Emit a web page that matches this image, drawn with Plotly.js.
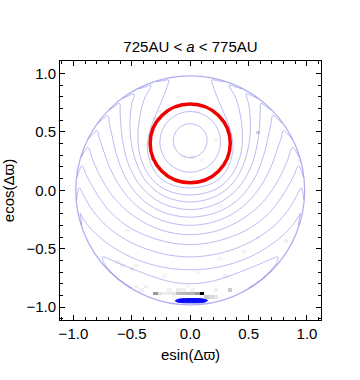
<!DOCTYPE html>
<html>
<head>
<meta charset="utf-8">
<script src="https://cdn.plot.ly/plotly-3.0.1.min.js"></script>
<style>
  html, body { margin: 0; padding: 0; background: #fff; }
  #plot { width: 360px; height: 380px; }
</style>
</head>
<body>
<div id="plot"></div>
<script>
// right halves of the secular contours (the picture is symmetric in x),
// read off the figure: bottom crossing -> side -> tongue tip -> back along the rim
const contourHalfX = [
  [0, 0.2, 0.31, 0.365, 0.355, 0.31, 0.25, 0.2, 0.185, 0.235, 0.287],
  [0, 0.22, 0.355, 0.43, 0.447, 0.43, 0.39, 0.335, 0.394, 0.444],
  [0, 0.23, 0.38, 0.47, 0.51, 0.515, 0.5, 0.48, 0.529, 0.576],
  [0, 0.24, 0.41, 0.52, 0.575, 0.595, 0.6, 0.606, 0.648, 0.691],
  [0, 0.25, 0.43, 0.56, 0.635, 0.67, 0.69, 0.708, 0.75, 0.788],
  [0, 0.25, 0.45, 0.6, 0.7, 0.755, 0.78, 0.797, 0.84, 0.872],
  [0, 0.25, 0.47, 0.64, 0.76, 0.83, 0.877, 0.909, 0.933],
  [0, 0.25, 0.5, 0.68, 0.8, 0.88, 0.928, 0.952, 0.968],
  [0, 0.25, 0.5, 0.7, 0.83, 0.91, 0.951, 0.966, 0.972],
  [0, 0.25, 0.5, 0.7, 0.84, 0.915, 0.943, 0.934, 0.928],
  [0, 0.2, 0.45, 0.62, 0.72, 0.75, 0.745, 0.69, 0.6, 0.5],
];
const contourHalfY = [
  [0.02, 0.065, 0.17, 0.34, 0.47, 0.61, 0.75, 0.88, 0.945, 0.937, 0.932],
  [-0.04, 0.01, 0.13, 0.3, 0.46, 0.64, 0.79, 0.9, 0.882, 0.868],
  [-0.1, -0.045, 0.08, 0.26, 0.45, 0.62, 0.74, 0.825, 0.808, 0.787],
  [-0.165, -0.11, 0.02, 0.2, 0.4, 0.57, 0.67, 0.745, 0.717, 0.688],
  [-0.23, -0.18, -0.06, 0.12, 0.32, 0.47, 0.56, 0.64, 0.609, 0.574],
  [-0.3, -0.255, -0.14, 0.03, 0.22, 0.38, 0.45, 0.51, 0.477, 0.437],
  [-0.38, -0.34, -0.23, -0.08, 0.1, 0.25, 0.368, 0.327, 0.282],
  [-0.465, -0.43, -0.33, -0.19, -0.03, 0.11, 0.21, 0.164, 0.115],
  [-0.57, -0.54, -0.45, -0.32, -0.18, -0.05, 0.022, -0.029, -0.08],
  [-0.68, -0.655, -0.575, -0.46, -0.34, -0.245, -0.197, -0.247, -0.298],
  [-0.8, -0.775, -0.69, -0.62, -0.578, -0.57, -0.61, -0.685, -0.77, -0.835],
];

// closed contours round the fixed point, and the e = 1 rim
const innerCircleCy = [0.425, 0.415];
const innerCircleR = [0.145, 0.26];
const rimRadius = 0.98;

// red curve (centre and half-axes)
const redCenter = [0, 0.402];
const redHalfAxes = [0.343, 0.337];

// blue patch at the bottom
const blueX = [-0.128, -0.1, -0.05, 0, 0.06, 0.11, 0.148, 0.12, 0.06, 0, -0.06, -0.105, -0.128];
const blueY = [-0.945, -0.932, -0.927, -0.926, -0.926, -0.93, -0.943, -0.958, -0.963, -0.963, -0.962, -0.957, -0.945];

// particle density cells (centre x, centre y, darkness 0..1)
const cellX = [-0.30, -0.26, -0.22, -0.18, -0.14, -0.10, -0.06, -0.02, 0.02, 0.06, 0.10,
  0.14, 0.18, 0.22, -0.14,
  -0.18, -0.10, -0.06, 0.02, 0.22, 0.34, -0.42,
  -0.46, -0.38, -0.02,
  -0.58, -0.50, -0.46, -0.62, 0.46, 0.82, 0.26, 0.06, 0.30, -0.22, 0.58,
  -0.26, -0.30, -0.22, 0.22, 0.58, 0.02, -0.06, 0.10, 0.06, -0.10, 0.94, -0.54, 0.26];
const cellY = [-0.885, -0.885, -0.885, -0.885, -0.885, -0.885, -0.885, -0.885, -0.885, -0.885, -0.885,
  -0.915, -0.915, -0.915, -0.915,
  -0.855, -0.855, -0.855, -0.855, -0.855, -0.855, -0.855,
  -0.825, -0.825, -0.825,
  -0.655, -0.685, -0.655, -0.625, -0.535, -0.445, -0.595, -0.715, -0.745, -0.745, -0.415,
  0.665, 0.605, 0.635, 0.425, 0.485, 0.275, 0.275, 0.245, 0.665, 0.785, 0.245, -0.335, -0.125];
const cellLevel = [0.4, 0.12, 0.06, 0.08, 0.1, 0.25, 0.28, 0.3, 0.3, 0.4, 1.0,
  0.2, 0.15, 0.1, 0.05,
  0.06, 0.08, 0.06, 0.05, 0.06, 0.2, 0.06,
  0.05, 0.05, 0.04,
  0.06, 0.06, 0.05, 0.05, 0.05, 0.05, 0.04, 0.04, 0.05, 0.04, 0.05,
  0.06, 0.05, 0.04, 0.06, 0.18, 0.05, 0.04, 0.04, 0.04, 0.03, 0.05, 0.04, 0.03];

const cellX0 = -1.02, cellDx = 0.04, cellY0 = -1.005, cellDy = 0.03;
const nCols = 52, nRows = 68;

const buildCells = () => {
  const z = Array.from({ length: nRows }, () => new Array(nCols).fill(null));
  cellX.forEach((x, i) => {
    const col = Math.round((x - cellX0) / cellDx);
    const row = Math.round((cellY[i] - cellY0) / cellDy);
    z[row][col] = cellLevel[i];
  });
  return z;
};

const mirror = (half, sign) => [
  ...half.slice(1).reverse().map((v) => sign * v),
  ...half,
];

const lavender = "rgba(95,95,225,0.42)";

const traces = [
  {
    type: "heatmap",
    z: buildCells(),
    x0: cellX0, dx: cellDx, y0: cellY0, dy: cellDy,
    zmin: 0, zmax: 1,
    colorscale: [[0, "#ffffff"], [1, "#000000"]],
    showscale: false,
    hoverinfo: "skip",
  },
  ...contourHalfX.map((hx, i) => ({
    type: "scatter",
    mode: "lines",
    x: mirror(hx, -1),
    y: mirror(contourHalfY[i], 1),
    line: { color: lavender, width: 1, shape: "spline", smoothing: 1 },
    hoverinfo: "skip",
  })),
  {
    type: "scatter",
    mode: "lines",
    x: blueX,
    y: blueY,
    fill: "toself",
    fillcolor: "#0a0aff",
    line: { color: "#0a0aff", width: 1, shape: "spline" },
    hoverinfo: "skip",
  },
];

const shapes = [
  {
    type: "circle", xref: "x", yref: "y", layer: "above",
    x0: -rimRadius, x1: rimRadius, y0: -rimRadius, y1: rimRadius,
    line: { color: "rgba(95,95,225,0.5)", width: 1.3 },
  },
  ...innerCircleR.map((r, i) => ({
    type: "circle", xref: "x", yref: "y", layer: "above",
    x0: -r, x1: r, y0: innerCircleCy[i] - r, y1: innerCircleCy[i] + r,
    line: { color: lavender, width: 1 },
  })),
  {
    type: "circle", xref: "x", yref: "y", layer: "above",
    x0: redCenter[0] - redHalfAxes[0], x1: redCenter[0] + redHalfAxes[0],
    y0: redCenter[1] - redHalfAxes[1], y1: redCenter[1] + redHalfAxes[1],
    line: { color: "#f00000", width: 3.5 },
  },
];

const axisBase = {
  showgrid: false,
  zeroline: false,
  showline: true,
  linecolor: "#000",
  linewidth: 1,
  mirror: "ticks",
  ticks: "inside",
  ticklen: 5,
  tickwidth: 1,
  tickcolor: "#000",
  tick0: 0,
  dtick: 0.5,
  tickformat: ".1f",
  tickfont: { size: 15, color: "#000" },
  minor: { dtick: 0.1, ticks: "inside", ticklen: 3, tickcolor: "#000", showgrid: false },
  fixedrange: true,
};

const layout = {
  width: 360,
  height: 380,
  margin: { l: 60, r: 39, t: 61, b: 60 },
  paper_bgcolor: "#fff",
  plot_bgcolor: "#fff",
  showlegend: false,
  font: { family: "Liberation Sans, Arial, sans-serif", color: "#000" },
  title: {
    text: "725AU &lt; <i>a</i> &lt; 775AU",
    font: { size: 15, color: "#000" },
    x: 0.5, xref: "paper", xanchor: "center",
    y: 0.876, yref: "container", yanchor: "middle",
  },
  xaxis: {
    ...axisBase,
    range: [-1.115, 1.12],
    title: { text: "esin(Δϖ)", font: { size: 15 }, standoff: 8 },
  },
  yaxis: {
    ...axisBase,
    range: [-1.11, 1.107],
    title: { text: "ecos(Δϖ)", font: { size: 15 }, standoff: 8 },
  },
  shapes,
};

Plotly.newPlot("plot", traces, layout, { staticPlot: true, displayModeBar: false });
</script>
</body>
</html>
